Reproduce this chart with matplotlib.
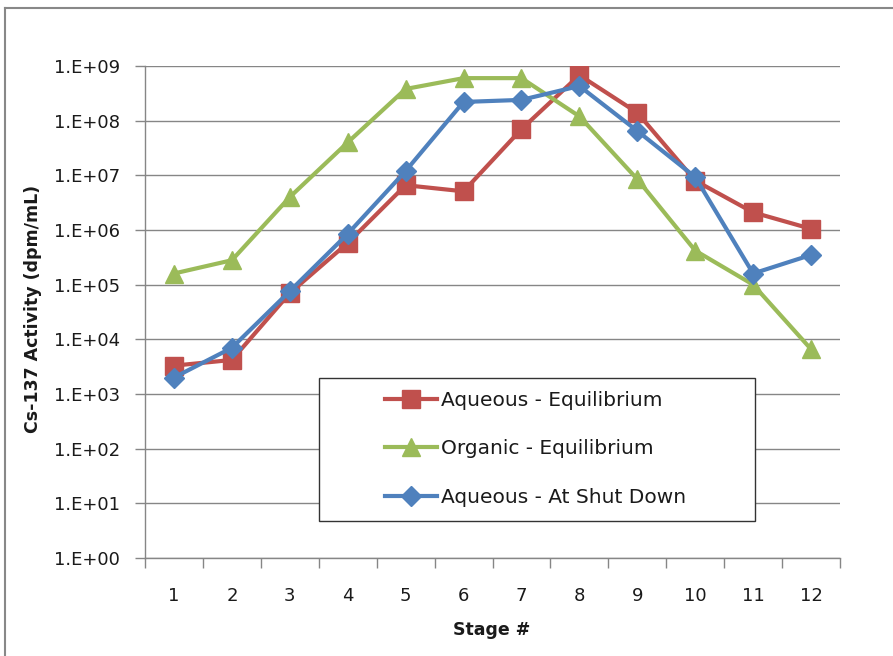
import matplotlib
matplotlib.use("Agg")
import matplotlib.pyplot as plt
from matplotlib.lines import Line2D
from matplotlib.patches import Rectangle
from matplotlib.ticker import FixedLocator, NullLocator

stages = [1, 2, 3, 4, 5, 6, 7, 8, 9, 10, 11, 12]
aqueous_eq = [3.3e3, 4.2e3, 7.0e4, 5.8e5, 6.6e6, 5.1e6, 7.0e7, 6.8e8, 1.4e8, 8.0e6, 2.1e6, 1.05e6]
organic_eq = [1.6e5, 2.8e5, 4.0e6, 4.0e7, 3.8e8, 6.0e8, 6.0e8, 1.2e8, 8.5e6, 4.2e5, 1.0e5, 6.6e3]
aqueous_sd = [2.0e3, 7.0e3, 7.6e4, 8.5e5, 1.2e7, 2.2e8, 2.4e8, 4.3e8, 6.5e7, 9.3e6, 1.6e5, 3.5e5]
series_names = ["Aqueous - Equilibrium", "Organic - Equilibrium", "Aqueous - At Shut Down"]
ytick_vals = [1e0, 1e1, 1e2, 1e3, 1e4, 1e5, 1e6, 1e7, 1e8, 1e9]
ytick_labels = ["1.E+00", "1.E+01", "1.E+02", "1.E+03", "1.E+04", "1.E+05",
                "1.E+06", "1.E+07", "1.E+08", "1.E+09"]

plt.rcParams['font.family'] = ['DejaVu Sans']
W, H = 893, 656
fig = plt.figure(figsize=(W / 100, H / 100), dpi=100)
fig.patch.set_facecolor('white')

left, right, top, bottom = 145, 840, 66, 558
ax = fig.add_axes([left / W, 1 - bottom / H, (right - left) / W, (bottom - top) / H])

grid_c = '#868686'
red, green, blue = '#C0504D', '#9BBB59', '#4F81BD'
txt_c = '#1a1a1a'

ax.plot(stages, aqueous_eq, color=red, lw=3, marker='s', ms=12.5, zorder=3, label=series_names[0])
ax.plot(stages, organic_eq, color=green, lw=3, marker='^', ms=13, zorder=3, label=series_names[1])
ax.plot(stages, aqueous_sd, color=blue, lw=3, marker='D', ms=10, zorder=4, label=series_names[2])

ax.set_yscale('log')
ax.set_ylim(1e0, 1e9)
ax.set_xlim(0.5, 12.5)
ax.yaxis.set_major_locator(FixedLocator(ytick_vals))
ax.yaxis.set_minor_locator(NullLocator())
ax.set_yticklabels(ytick_labels)
ax.set_xticks(stages)
ax.set_xticklabels([str(s) for s in stages])
ax.xaxis.set_minor_locator(FixedLocator([s + 0.5 for s in [0] + stages]))

ax.tick_params(axis='y', which='major', length=7, width=1, color=grid_c, pad=11,
               labelsize=13, labelcolor=txt_c)
ax.tick_params(axis='x', which='major', length=0, pad=21, labelsize=13, labelcolor=txt_c)
ax.tick_params(axis='x', which='minor', length=7, width=1, color=grid_c, direction='out')

ax.grid(axis='y', which='major', color=grid_c, lw=1)
ax.set_axisbelow(True)
for s in ['top', 'right']:
    ax.spines[s].set_visible(False)
for s in ['left', 'bottom']:
    ax.spines[s].set_color(grid_c)
    ax.spines[s].set_linewidth(1)

fig.text(492 / W, 1 - 630 / H, 'Stage #', ha='center', va='center', fontsize=12.5,
         fontweight='bold', color=txt_c)
fig.text(33 / W, 1 - 309 / H, 'Cs-137 Activity (dpm/mL)', ha='center', va='center',
         rotation=90, fontsize=12.5, fontweight='bold', color=txt_c)

# legend box
bx0 = (319 - left) / (right - left)
bx1 = (755 - left) / (right - left)
by0 = (bottom - 521) / (bottom - top)
by1 = (bottom - 378) / (bottom - top)
ax.add_patch(Rectangle((bx0, by0), bx1 - bx0, by1 - by0, transform=ax.transAxes,
                       facecolor='white', edgecolor='#333333', lw=1, zorder=5))
leg = ax.legend(loc='center left', bbox_to_anchor=((385 - left) / (right - left),
                (bottom - 449) / (bottom - top)),
                frameon=False, fontsize=14.5, handlelength=2.6, handletextpad=0.2,
                labelspacing=1.45, borderpad=0, borderaxespad=0)
leg.set_zorder(6)
for t in leg.get_texts():
    t.set_color(txt_c)

# outer chart border (top and left)
fig.add_artist(Line2D([5 / W, 1.0], [1 - 8 / H, 1 - 8 / H], color='#888888', lw=1.5))
fig.add_artist(Line2D([5 / W, 5 / W], [0, 1 - 8 / H], color='#888888', lw=1.5))

fig.savefig('out.png', dpi=100)
